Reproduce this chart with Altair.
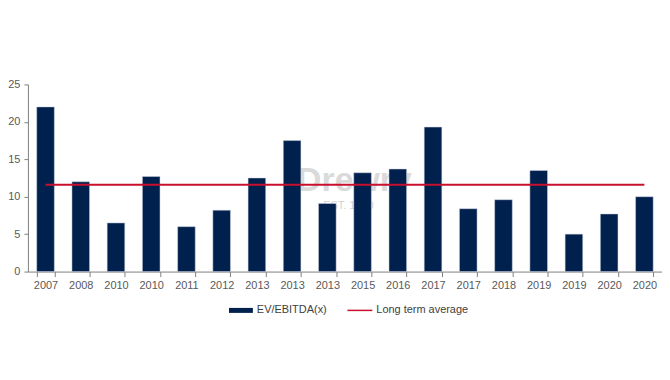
import altair as alt
import pandas as pd

labels = ["2007", "2008", "2010", "2010", "2011", "2012", "2013", "2013", "2013",
          "2015", "2016", "2017", "2017", "2018", "2019", "2019", "2020", "2020"]
values = [22.0, 12.0, 6.5, 12.7, 6.0, 8.2, 12.5, 17.5, 9.1,
          13.2, 13.7, 19.3, 8.4, 9.6, 13.5, 5.0, 7.7, 10.0]
long_term_avg = 11.6
legend_names = ["EV/EBITDA(x)", "Long term average"]

df = pd.DataFrame({"i": list(range(len(labels))), "label": labels, "value": values})
df["avg"] = long_term_avg

W, H = 637, 188
FONT = "Liberation Sans"
NAVY = "#00204E"
RED = "#C8102E"
GRAY = "#595959"

label_expr = "[" + ",".join("'%s'" % l for l in labels) + "][datum.value]"

xscale = alt.Scale(paddingInner=0.5, paddingOuter=0.25)
xaxis = alt.Axis(title=None, labelExpr=label_expr, labelAngle=0,
                 tickBand="extent", tickSize=5, tickColor="#808080",
                 domainColor="#808080", labelColor=GRAY, labelFont=FONT,
                 labelFontSize=11, labelPadding=3, grid=False)
yscale = alt.Scale(domain=[0, 25], nice=False)
yaxis = alt.Axis(title=None, values=[0, 5, 10, 15, 20, 25], grid=False,
                 labelOverlap=False, tickSize=4, tickColor="#808080",
                 domainColor="#808080", labelColor=GRAY, labelFont=FONT,
                 labelFontSize=11, labelPadding=4)

base = alt.Chart(df)

watermark = alt.Chart(pd.DataFrame({"t": ["Drewry"]})).mark_text(
    font=FONT, fontSize=34, fontWeight="bold", color="#DADADA", align="center"
).encode(x=alt.value(328), y=alt.value(97), text="t:N")
watermark2 = alt.Chart(pd.DataFrame({"t": ["EST. 1970"]})).mark_text(
    font=FONT, fontSize=11, color="#D0D0D0", align="center"
).encode(x=alt.value(322), y=alt.value(122), text="t:N")

bars = base.mark_bar(color=NAVY, stroke="#D0D5E0", strokeWidth=0.5).encode(
    x=alt.X("i:O", scale=xscale, sort="ascending", axis=xaxis),
    y=alt.Y("value:Q", scale=yscale, axis=yaxis))
line = base.mark_line(color=RED, strokeWidth=2).encode(
    x=alt.X("i:O", scale=xscale, sort="ascending", axis=xaxis),
    y=alt.Y("avg:Q", scale=yscale, axis=yaxis))

# manual legend
leg_y = H + 39
leg_rect = alt.Chart(pd.DataFrame({"a": [0]})).mark_rect(color=NAVY).encode(
    x=alt.value(202), x2=alt.value(226), y=alt.value(leg_y - 2.5), y2=alt.value(leg_y + 2.5))
leg_rule = alt.Chart(pd.DataFrame({"a": [0]})).mark_rule(color=RED, strokeWidth=1.5).encode(
    x=alt.value(321), x2=alt.value(346), y=alt.value(leg_y))
leg_text1 = alt.Chart(pd.DataFrame({"t": [legend_names[0]]})).mark_text(
    font=FONT, fontSize=11, color="#404040", align="left", baseline="middle"
).encode(x=alt.value(230), y=alt.value(leg_y), text="t:N")
leg_text2 = alt.Chart(pd.DataFrame({"t": [legend_names[1]]})).mark_text(
    font=FONT, fontSize=11, color="#404040", align="left", baseline="middle"
).encode(x=alt.value(350), y=alt.value(leg_y), text="t:N")

chart = alt.layer(watermark, watermark2, bars, line, leg_rect, leg_rule,
                  leg_text1, leg_text2).properties(
    width=W, height=H,
    background="white",
    autosize=alt.AutoSizeParams(type="none"),
    padding={"left": 20, "top": 76, "right": 0, "bottom": 80},
).configure_view(strokeWidth=0)

chart.save("out.html", embed_options={"renderer": "svg", "actions": False})
